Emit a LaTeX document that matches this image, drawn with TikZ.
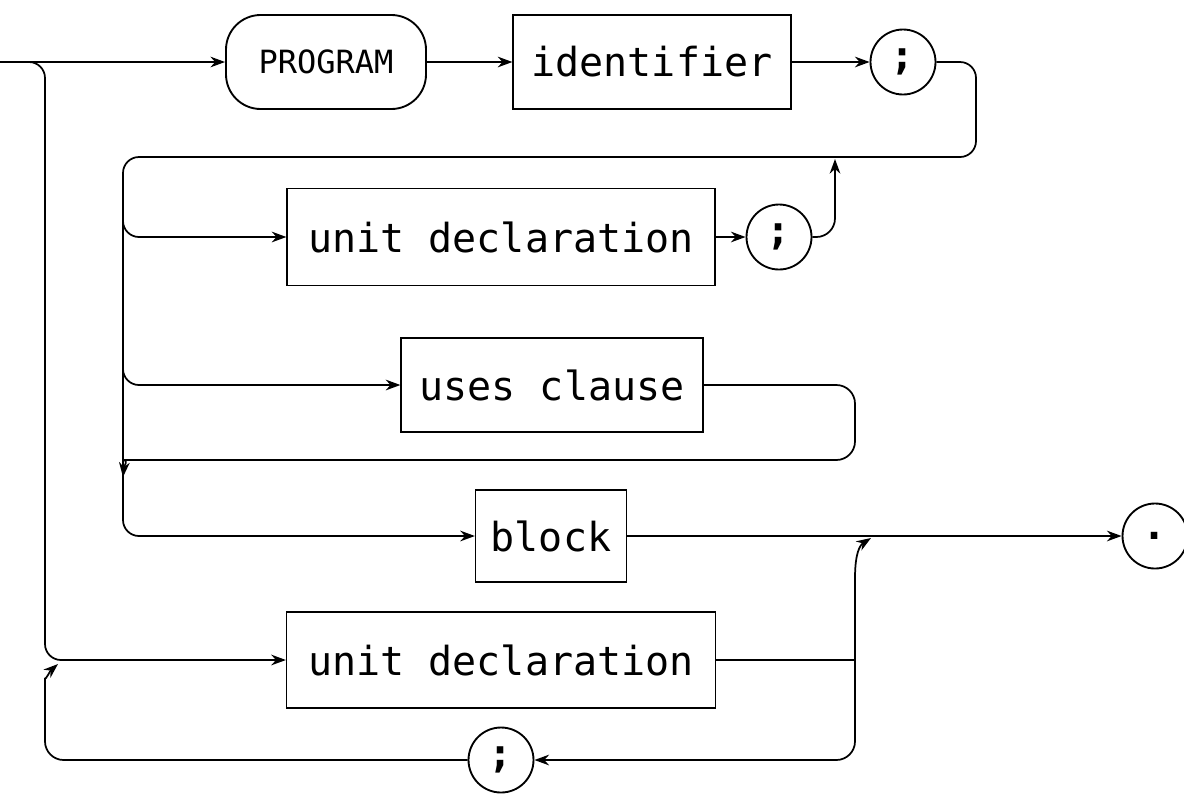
\documentclass[tikz,border=0pt]{standalone}
\usepackage{fontspec}
\setmonofont{DejaVu Sans Mono}
\usetikzlibrary{arrows.meta,shapes.geometric}
\begin{document}
\begin{tikzpicture}[x=0.75pt,y=-0.75pt,
  ln/.style={line width=1.3pt,black,line join=round},
  arr/.style={ln,-{Stealth[length=11pt,width=8pt]}},
  box/.style 2 args={draw,line width=0.9pt,inner sep=0pt,
    minimum width={#1*0.75pt},minimum height={#2*0.75pt},
    font=\ttfamily\fontsize{30}{32}\selectfont},
  term/.style={draw,line width=1.4pt,inner sep=0pt,rounded corners=26pt,
    minimum width={200*0.75pt},minimum height={94*0.75pt},
    font=\ttfamily\fontsize{24}{26}\selectfont},
  sym/.style={draw,circle,line width=1.4pt,inner sep=0pt,
    minimum size={65*0.75pt},
    font=\ttfamily\bfseries\fontsize{30}{32}\selectfont},
]
\useasboundingbox (0,0) rectangle (1184,797);

% nodes
\node[term] (prog) at (326,62) {PROGRAM};
\node[box={278}{94}] (ident) at (652,62) {identifier};
\node[sym] (s1) at (903,62) {;};
\node[box={428}{97}] (ud1) at (501,237) {unit declaration};
\node[sym] (s2) at (779,237) {;};
\node[box={302}{94}] (uc) at (552,385) {uses clause};
\node[box={151}{92}] (blk) at (551,536) {block};
\node[sym] (dot) at (1155,536) {.};
\node[box={429}{96}] (ud2) at (501,660) {unit declaration};
\node[sym] (s3) at (501,760) {;};

% corner coordinates
\coordinate (start) at (0,62);
\coordinate (oTop) at (45,62);
\coordinate (oBot) at (45,760);
\coordinate (rR) at (976,157);
\coordinate (iTop) at (123,157);
\coordinate (iBot) at (123,536);
\coordinate (uR) at (855,385);
\coordinate (uRet) at (855,460);
\coordinate (uIn) at (123,477);
\coordinate (s2up) at (835,159);
\coordinate (vR) at (855,660);
\coordinate (vRbot) at (855,760);
\coordinate (vRin) at (871,538);
\coordinate (oIn) at (58,664);

% row 1
\draw[arr] (start) -- (prog.west);
\draw[arr] (prog.east) -- (ident.west);
\draw[arr] (ident.east) -- (s1.west);
\draw[arr,rounded corners=12pt] (s1.east) -- (s1.east -| rR) -- (rR) -- (iTop) -- (iBot) -- (blk.west);

% outer branch
\draw[arr,rounded corners=12pt] (30,62) -- (oTop) -- (oTop |- ud2.west) -- (ud2.west);

% inner branches
\draw[arr,rounded corners=12pt] (123,200) -- (ud1.west -| iTop) -- (ud1.west);
\draw[arr,rounded corners=12pt] (123,340) -- (uc.west -| iTop) -- (uc.west);

% row 2 return
\draw[arr] (ud1.east) -- (s2.west);
\draw[arr,rounded corners=14pt] (s2.east) -- (s2.east -| s2up) -- (s2up);

% uses clause loop
\draw[arr,rounded corners=14pt] (uc.east) -- (uR) -- (uRet) -- (142,460) .. controls (129,460) and (124,466) .. (uIn);

% block to dot
\draw[arr] (blk.east) -- (dot.west);

% bottom unit declaration loop
\draw[ln] (ud2.east) -- (vR);
\draw[arr] (vR) -- (855,578) .. controls (855,553) and (860,545) .. (vRin);
\draw[arr,rounded corners=14pt] (vR) -- (vRbot) -- (s3.east);
\draw[arr,rounded corners=14pt] (s3.west) -- (oBot) -- (45,697) .. controls (45,681) and (50,671) .. (oIn);
\end{tikzpicture}
\end{document}
